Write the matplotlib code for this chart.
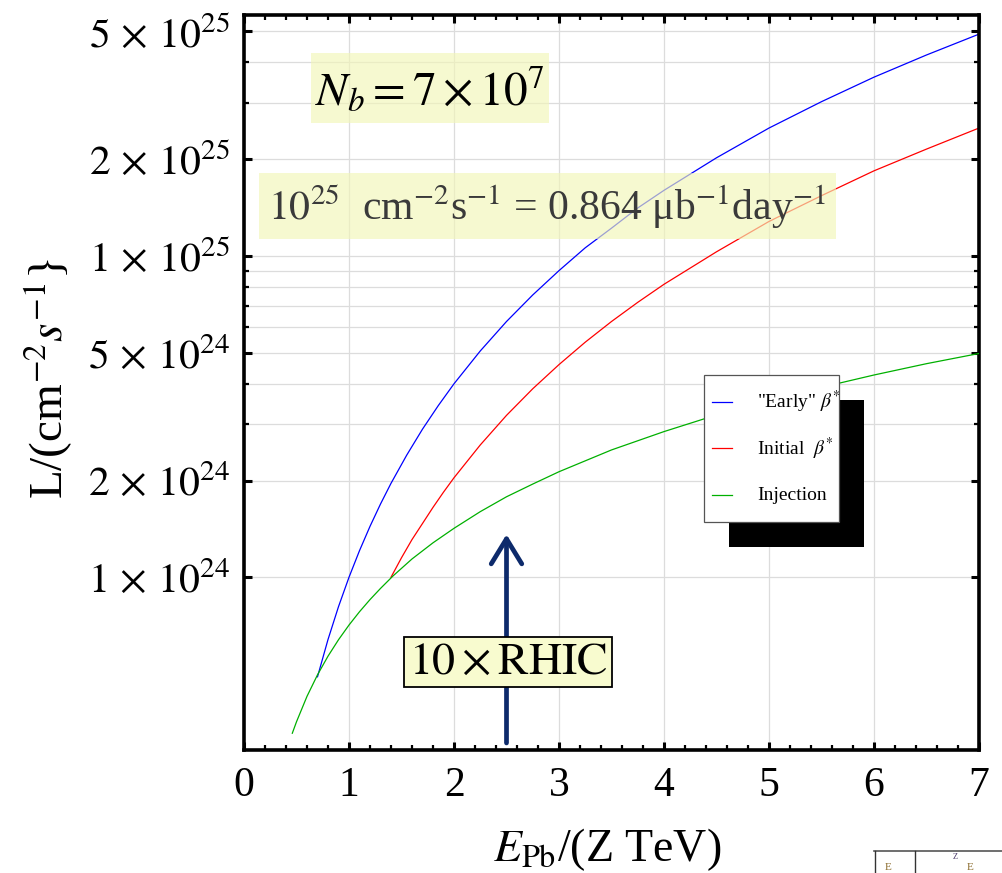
import matplotlib
matplotlib.use('Agg')
import matplotlib.pyplot as plt
from matplotlib.patches import Rectangle
from matplotlib.lines import Line2D
from matplotlib.ticker import FixedLocator, FixedFormatter, MultipleLocator, NullFormatter

plt.rcParams['font.family'] = 'serif'
plt.rcParams['font.serif'] = ['Liberation Serif', 'STIXGeneral', 'DejaVu Serif']
plt.rcParams['mathtext.fontset'] = 'stix'

# --- data (E in Z TeV, L in cm^-2 s^-1) ---
energy_injection = [0.46, 0.5, 0.6, 0.7, 0.8, 0.9, 1.0, 1.1, 1.2, 1.3, 1.42, 1.6,
                    1.8, 2.0, 2.25, 2.5, 2.75, 3.0, 3.5, 4.0, 4.5, 5.0, 5.5, 6.0,
                    6.5, 7.0]
lumi_injection = [3.27e23, 3.55e23, 4.26e23, 4.97e23, 5.68e23, 6.39e23, 7.1e23,
                  7.81e23, 8.52e23, 9.23e23, 1.01e24, 1.14e24, 1.28e24, 1.42e24,
                  1.6e24, 1.78e24, 1.95e24, 2.13e24, 2.49e24, 2.84e24, 3.2e24,
                  3.55e24, 3.9e24, 4.26e24, 4.62e24, 4.97e24]

energy_early = [0.7, 0.75, 0.8, 0.85, 0.9, 0.95, 1.0, 1.1, 1.2, 1.3, 1.4, 1.55,
                1.7, 1.85, 2.0, 2.25, 2.5, 2.75, 3.0, 3.25, 3.5, 3.75, 4.0, 4.5,
                5.0, 5.5, 6.0, 6.5, 7.0]
lumi_early = [4.9e23, 5.6e23, 6.4e23, 7.2e23, 8.1e23, 9.0e23, 1.0e24, 1.21e24,
              1.44e24, 1.69e24, 1.96e24, 2.4e24, 2.89e24, 3.42e24, 4.0e24, 5.06e24,
              6.25e24, 7.56e24, 9.0e24, 1.06e25, 1.22e25, 1.41e25, 1.6e25, 2.02e25,
              2.5e25, 3.02e25, 3.6e25, 4.22e25, 4.9e25]

energy_initial = [1.4, 1.5, 1.6, 1.7, 1.8, 1.9, 2.0, 2.25, 2.5, 2.75, 3.0, 3.25,
                  3.5, 3.75, 4.0, 4.5, 5.0, 5.5, 6.0, 6.5, 7.0]
lumi_initial = [1.0e24, 1.15e24, 1.31e24, 1.47e24, 1.65e24, 1.84e24, 2.04e24,
                2.58e24, 3.19e24, 3.86e24, 4.59e24, 5.39e24, 6.25e24, 7.17e24,
                8.16e24, 1.03e25, 1.28e25, 1.54e25, 1.84e25, 2.15e25, 2.5e25]

series_labels = ['"Early" $\\beta^{*}$', 'Initial  $\\beta^{*}$', 'Injection']
series_colors = ['#0000ff', '#ff0000', '#00b000']

y_major = [1e24, 2e24, 5e24, 1e25, 2e25, 5e25]
y_major_labels = [r'$1\,\times\,10^{24}$', r'$2\,\times\,10^{24}$',
                  r'$5\,\times\,10^{24}$', r'$1\,\times\,10^{25}$',
                  r'$2\,\times\,10^{25}$', r'$5\,\times\,10^{25}$']
y_minor = [3e24, 4e24, 6e24, 7e24, 8e24, 9e24, 3e25, 4e25]
y_grid = [1e24, 2e24, 3e24, 4e24, 5e24, 6e24, 7e24, 8e24, 9e24,
          1e25, 2e25, 3e25, 4e25, 5e25]
x_grid = [1, 2, 3, 4, 5, 6]

rhic_energy = 2.5
rhic_arrow_span = (3.05e23, 1.36e24)

W, H = 1002, 873


def fx(px):
    return px / W


def fy(py):
    return 1 - py / H


fig = plt.figure(figsize=(W / 100, H / 100), dpi=100)
ax = fig.add_axes([fx(244), fy(750), (979 - 244) / W, (750 - 15) / H])
ax.set_yscale('log')
ax.set_xlim(0, 7)
ax.set_ylim(2.9e23, 5.62e25)

# grid (horizontal only from 1e24 up, as in the original)
for g in y_grid:
    ax.axhline(g, color='#dcdcdc', lw=0.9, zorder=0)
for g in x_grid:
    ax.axvline(g, color='#dcdcdc', lw=0.9, zorder=0)

ax.plot(energy_early, lumi_early, color=series_colors[0], lw=0.9, zorder=2)
ax.plot(energy_initial, lumi_initial, color=series_colors[1], lw=0.9, zorder=2)
ax.plot(energy_injection, lumi_injection, color=series_colors[2], lw=0.9, zorder=3)

# ticks
ax.yaxis.set_major_locator(FixedLocator(y_major))
ax.yaxis.set_major_formatter(FixedFormatter(y_major_labels))
ax.yaxis.set_minor_locator(FixedLocator(y_minor))
ax.yaxis.set_minor_formatter(NullFormatter())
ax.xaxis.set_major_locator(MultipleLocator(1))
ax.xaxis.set_minor_locator(MultipleLocator(0.2))
ax.tick_params(which='both', direction='in', top=True, right=True)
ax.tick_params(which='major', length=6, width=2.2)
ax.tick_params(which='minor', length=3.5, width=1.6)
ax.tick_params(axis='y', which='major', labelsize=30, pad=10)
ax.tick_params(axis='x', which='major', labelsize=30, pad=12)
for s in ax.spines.values():
    s.set_linewidth(2.6)

ax.set_ylabel(r'L/(cm$^{-2}$$s^{-1}$}', fontsize=34, va='center')
ax.yaxis.set_label_coords(-0.266, 0.505)
ax.set_xlabel(r'$E_{\mathrm{Pb}}$/(Z TeV)', fontsize=33, va='center')
ax.xaxis.set_label_coords(0.494, -0.136)

# RHIC arrow
ax.annotate('', xy=(rhic_energy, rhic_arrow_span[1]),
            xytext=(rhic_energy, rhic_arrow_span[0]),
            arrowprops=dict(arrowstyle='->,head_length=0.9,head_width=0.55',
                            color='#0d2a6b', lw=3.4, mutation_scale=20,
                            shrinkA=0, shrinkB=0), zorder=4)


def add_box(x0, y0, x1, y1, fc, ec='none', lw=0, alpha=1.0, z=5):
    r = Rectangle((fx(x0), fy(y1)), fx(x1) - fx(x0), fy(y0) - fy(y1),
                  transform=fig.transFigure, facecolor=fc, edgecolor=ec,
                  lw=lw, alpha=alpha, zorder=z)
    fig.add_artist(r)
    return r


# annotation boxes
add_box(311, 53, 549, 123, fc='#f2f6b8', alpha=0.65)
fig.text(fx(430), fy(90), r'$N_b = 7\times10^{7}$', fontsize=34,
         ha='center', va='center', zorder=6)

add_box(259, 173, 836, 239, fc='#f2f6b8', alpha=0.65)
fig.text(fx(547), fy(207),
         r'$10^{25}$  cm$^{\mathrm{-2}}$s$^{\mathrm{-1}}$ = 0.864 μb$^{-1}$day$^{-1}$',
         fontsize=30, color='#3a3a3a', ha='center', va='center', zorder=6)

add_box(404, 637, 612, 687, fc='#f8fbcf', ec='black', lw=1.3)
fig.text(fx(508), fy(663), r'$10\times\mathrm{RHIC}$', fontsize=33,
         ha='center', va='center', zorder=6)

# legend with hard shadow
add_box(729, 400, 864, 547, fc='black', z=7)
leg_box = add_box(704, 375, 839, 522, fc='white', ec='#555555', lw=0.9, z=8)
for i, (lab, col) in enumerate(zip(series_labels, series_colors)):
    yy = 402 + i * 46.5
    fig.add_artist(Line2D([fx(712), fx(732)], [fy(yy), fy(yy)], color=col, lw=0.9,
                          transform=fig.transFigure, zorder=9))
    t = fig.text(fx(757), fy(yy), lab, fontsize=14, ha='left', va='center', zorder=9)
    t.set_clip_path(leg_box)

# cropped fragment in the lower right corner of the source image
fig.add_artist(Line2D([fx(874), fx(1002)], [fy(851), fy(851)], color='#555555',
                      lw=1.2, transform=fig.transFigure))
for xv in (875, 915):
    fig.add_artist(Line2D([fx(xv), fx(xv)], [fy(851), fy(873)], color='#333333',
                          lw=1.0, transform=fig.transFigure))
fig.text(fx(888), fy(868), 'E', fontsize=8, color='#8a6a2a', ha='center', va='center')
fig.text(fx(955), fy(857), 'Z', fontsize=6, color='#4a3a6a', ha='center', va='center')
fig.text(fx(970), fy(868), 'E', fontsize=8, color='#8a6a2a', ha='center', va='center')

fig.savefig('out.png', dpi=100)
